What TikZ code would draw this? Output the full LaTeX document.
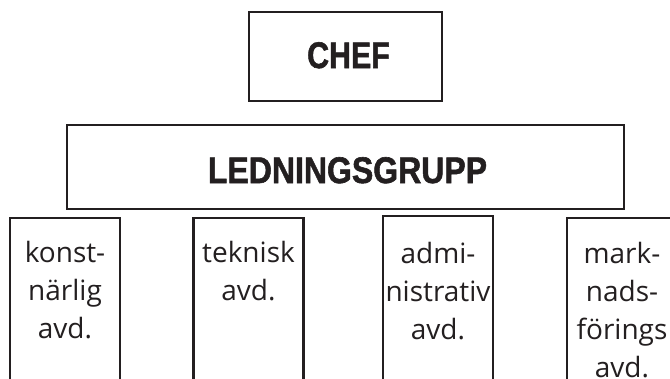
\documentclass[tikz,border=0pt]{standalone}
\usepackage{fontspec}
\usepackage{graphicx}
\setmainfont{Open Sans}
\newfontfamily\headfont{Liberation Sans}[BoldFeatures={FakeBold=1.6}]
\usetikzlibrary{calc}
\definecolor{ink}{RGB}{35,31,32}
\begin{document}
\begin{tikzpicture}[x=1pt,y=-1pt,
  frame/.style={draw=ink, line width=2.2pt, inner sep=0pt},
  head/.style={text=ink, inner sep=0pt, anchor=base,
    font=\headfont\bfseries\fontsize{37}{37}\selectfont},
  dept/.style={text=ink, inner sep=0pt, anchor=north, align=center,
    font=\fontsize{28}{38}\selectfont},
  deptbox/.style={frame, anchor=north, minimum width=110pt, minimum height=230pt},
]
\useasboundingbox (0,0) rectangle (670,378);
\fill[white] (0,0) rectangle (670,378);
\clip (0,0) rectangle (670,378);

% top level
\node[frame, minimum width=193pt, minimum height=89pt] (chef) at (345.5,56.5) {};
\node[head] (cheftext) at (348.5,68) {\scalebox{0.82}[1]{CHEF}};

% management group
\node[frame, minimum width=557pt, minimum height=84pt] (grp) at (345.5,167) {};
\node[head] (grptext) at (347.5,183) {\scalebox{0.865}[1]{LEDNINGSGRUPP}};

% departments (running off the lower edge)
\node[deptbox] (d1) at (65,217) {};
\node[deptbox] (d2) at (248.5,217) {};
\node[deptbox] (d3) at (438,215) {};
\node[deptbox] (d4) at (622,216.5) {};

\node[dept] (t1) at (d1.north |- 0,241) {konst-\\närlig\\avd.};
\node[dept] (t2) at (d2.north |- 0,241) {teknisk\\avd.};
\node[dept] (t3) at (d3.north |- 0,242) {admi-\\nistrativ\\avd.};
\node[dept] (t4) at (d4.north |- 0,242) {mark-\\nads-\\förings\\avd.};
\end{tikzpicture}
\end{document}
